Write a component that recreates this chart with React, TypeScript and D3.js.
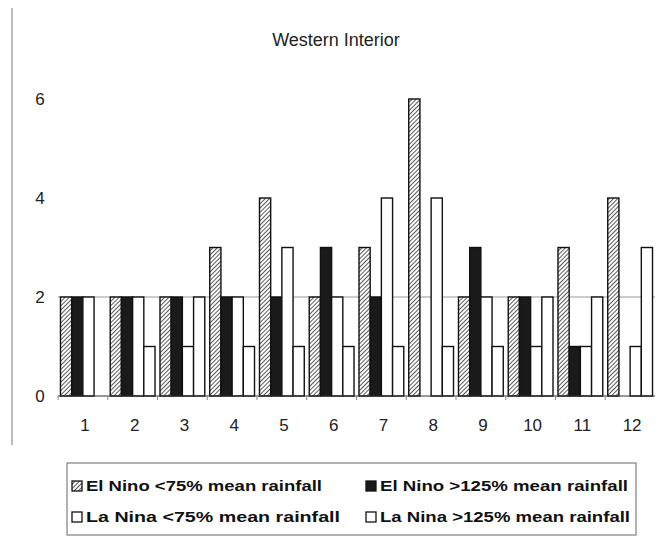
import React from 'react';
import * as d3 from 'd3';

const months = ['1', '2', '3', '4', '5', '6', '7', '8', '9', '10', '11', '12'];
const elNinoDry = [2, 2, 2, 3, 4, 2, 3, 6, 2, 2, 3, 4];
const elNinoWet = [2, 2, 2, 2, 2, 3, 2, 0, 3, 2, 1, 0];
const laNinaDry = [2, 2, 1, 2, 3, 2, 4, 4, 2, 1, 1, 1];
const laNinaWet = [0, 1, 2, 1, 1, 1, 1, 1, 1, 2, 2, 3];
const yTicks = [0, 2, 4, 6];
const seriesNames = [
  'El Nino <75% mean rainfall',
  'El Nino >125% mean rainfall',
  'La Nina <75% mean rainfall',
  'La Nina >125% mean rainfall',
];

const fills = ['url(#hatch)', '#1a1a1a', '#ffffff', '#ffffff'];
const font = '"Liberation Sans", Arial, sans-serif';

const App: React.FC = () => {
  const width = 670;
  const height = 538;
  const series = [elNinoDry, elNinoWet, laNinaDry, laNinaWet];

  const x0 = d3.scaleBand<string>().domain(months).range([58, 655]).paddingInner(0.1).paddingOuter(0.05);
  const x1 = d3.scaleBand<number>().domain([0, 1, 2, 3]).range([0, x0.bandwidth()]);
  const y = d3.scaleLinear().domain([0, 6]).range([396, 99]);

  // legend placement, two columns, two rows
  const legendCols = [72, 366];
  const legendRows = [486, 517];
  const legendTextLen = [236, 248, 254, 250];

  return (
    <svg width={width} height={height} style={{ position: 'absolute', left: 0, top: 0, background: '#fff' }}>
      <defs>
        <pattern id="hatch" width="3" height="3" patternUnits="userSpaceOnUse" patternTransform="rotate(45)">
          <rect width="3" height="3" fill="#fff" />
          <line x1="0" y1="0" x2="0" y2="3" stroke="#222" strokeWidth="1.5" />
        </pattern>
      </defs>

      {/* frame remnant */}
      <line x1={12} y1={8} x2={12} y2={445} stroke="#777" strokeWidth={1} />

      <text x={336} y={46} textAnchor="middle" fontFamily={font} fontSize={18} fill="#222">
        Western Interior
      </text>

      {/* gridline at 2 */}
      <line x1={58} x2={655} y1={y(2)} y2={y(2)} stroke="#999" strokeWidth={1} />

      {yTicks.map(t => (
        <text key={t} x={40} y={y(t)} dy="0.35em" textAnchor="middle" fontFamily={font} fontSize={17} fill="#222">
          {t}
        </text>
      ))}

      {months.map((m, i) => (
        <g key={m} transform={`translate(${x0(m)},0)`}>
          {series.map((s, k) =>
            s[i] > 0 ? (
              <rect
                key={k}
                x={x1(k)}
                y={y(s[i])}
                width={x1.bandwidth()}
                height={y(0) - y(s[i])}
                fill={fills[k]}
                stroke="#111"
                strokeWidth={1.4}
              />
            ) : null
          )}
        </g>
      ))}

      <line x1={58} x2={655} y1={y(0)} y2={y(0)} stroke="#333" strokeWidth={1.2} />
      {months.map(m => (
        <line key={m} x1={(x0(m) as number) - x0.step() * 0.05} x2={(x0(m) as number) - x0.step() * 0.05} y1={y(0)} y2={y(0) + 4} stroke="#888" />
      ))}

      {months.map(m => (
        <text key={m} x={(x0(m) as number) + x0.bandwidth() / 2 + 2} y={431} textAnchor="middle" fontFamily={font} fontSize={17} fill="#222">
          {m}
        </text>
      ))}

      {/* legend */}
      <rect x={67} y={463} width={569} height={72} fill="#fff" stroke="#666" strokeWidth={1} />
      {seriesNames.map((name, k) => {
        const lx = legendCols[k % 2];
        const ly = legendRows[Math.floor(k / 2)];
        return (
          <g key={name}>
            <rect x={lx} y={ly - 5} width={10} height={10} fill={fills[k]} stroke="#111" strokeWidth={1.3} />
            <text
              x={lx + 14}
              y={ly}
              dy="0.36em"
              fontFamily={font}
              fontSize={15}
              fontWeight="bold"
              fill="#111"
              textLength={legendTextLen[k]}
              lengthAdjust="spacingAndGlyphs"
            >
              {name}
            </text>
          </g>
        );
      })}
    </svg>
  );
};

export default App;
